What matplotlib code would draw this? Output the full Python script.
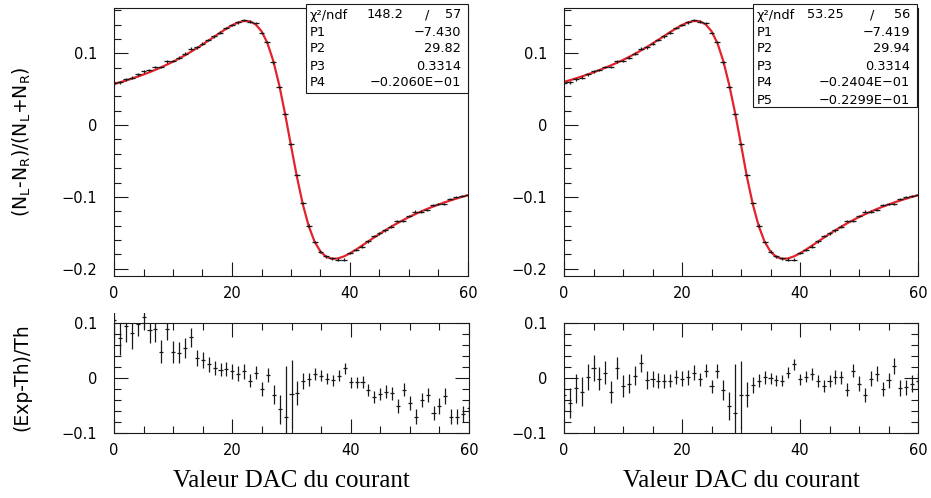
"""Asymmetry vs DAC current: two fits with their residual panels."""

import numpy as np
import matplotlib

matplotlib.use("Agg")

from matplotlib import pyplot as plt  # noqa: E402
from matplotlib.patches import Rectangle  # noqa: E402
from matplotlib.ticker import FuncFormatter, MultipleLocator  # noqa: E402

dac = list(range(61))

# fitted curves (left: 4-parameter fit, right: 5-parameter fit)
fit_left = [
    0.0571, 0.0595, 0.0620, 0.0647, 0.0675, 0.0704, 0.0736, 0.0769, 0.0805, 0.0843,
    0.0883, 0.0926, 0.0971, 0.1019, 0.1069, 0.1122, 0.1176, 0.1231, 0.1287, 0.1340,
    0.1389, 0.1427, 0.1449, 0.1445, 0.1403, 0.1307, 0.1142, 0.0893, 0.0560, 0.0155,
    -0.0286, -0.0719, -0.1101, -0.1405, -0.1622, -0.1761, -0.1835, -0.1862, -0.1855, -0.1826,
    -0.1784, -0.1734, -0.1679, -0.1624, -0.1568, -0.1515, -0.1463, -0.1413, -0.1366, -0.1322,
    -0.1280, -0.1241, -0.1204, -0.1169, -0.1136, -0.1106, -0.1076, -0.1049, -0.1023, -0.0998,
    -0.0975,
]
fit_right = [
    0.0601, 0.0625, 0.0650, 0.0677, 0.0705, 0.0734, 0.0766, 0.0799, 0.0833, 0.0869,
    0.0907, 0.0948, 0.0991, 0.1037, 0.1085, 0.1136, 0.1188, 0.1241, 0.1295, 0.1346,
    0.1393, 0.1429, 0.1449, 0.1445, 0.1403, 0.1307, 0.1142, 0.0893, 0.0560, 0.0170,
    -0.0270, -0.0719, -0.1101, -0.1405, -0.1622, -0.1761, -0.1835, -0.1862, -0.1855, -0.1826,
    -0.1784, -0.1734, -0.1679, -0.1624, -0.1568, -0.1515, -0.1463, -0.1413, -0.1366, -0.1322,
    -0.1280, -0.1241, -0.1204, -0.1169, -0.1136, -0.1106, -0.1076, -0.1049, -0.1023, -0.0998,
    -0.0975,
]

# measured asymmetry (N_L-N_R)/(N_L+N_R)
measured = [
    0.0583, 0.0596, 0.0638, 0.0660, 0.0706, 0.0747, 0.0765, 0.0807, 0.0812, 0.0886,
    0.0893, 0.0939, 0.0995, 0.1065, 0.1081, 0.1134, 0.1182, 0.1235, 0.1289, 0.1349,
    0.1392, 0.1430, 0.1463, 0.1442, 0.1421, 0.1287, 0.1157, 0.0873, 0.0531, 0.0159,
    -0.0262, -0.0697, -0.1087, -0.1398, -0.1624, -0.1761, -0.1828, -0.1853, -0.1874, -0.1872,
    -0.1780, -0.1737, -0.1692, -0.1616, -0.1544, -0.1507, -0.1466, -0.1414, -0.1337, -0.1339,
    -0.1267, -0.1203, -0.1203, -0.1178, -0.1113, -0.1102, -0.1100, -0.1030, -0.1006, -0.0988,
    -0.0970,
]

# (Exp-Th)/Th
res_left = [
    0.105, 0.072, 0.095, 0.081, 0.099, 0.111, 0.087, 0.090, 0.048, 0.090,
    0.048, 0.046, 0.055, 0.074, 0.036, 0.033, 0.025, 0.018, 0.015, 0.016,
    0.012, 0.008, 0.012, -0.005, 0.010, -0.020, 0.005, -0.030, -0.057, -0.070,
    -0.029, -0.027, -0.005, -0.002, 0.008, 0.004, -0.001, -0.004, 0.004, 0.018,
    -0.008, -0.008, -0.007, -0.022, -0.035, -0.029, -0.025, -0.028, -0.051, -0.021,
    -0.046, -0.070, -0.040, -0.031, -0.064, -0.051, -0.033, -0.070, -0.070, -0.065,
    -0.055,
]
res_left_err = [
    0.040, 0.030, 0.029, 0.029, 0.023, 0.021, 0.024, 0.024, 0.021, 0.021,
    0.020, 0.019, 0.018, 0.017, 0.015, 0.015, 0.014, 0.013, 0.012, 0.013,
    0.013, 0.013, 0.013, 0.012, 0.012, 0.012, 0.013, 0.018, 0.027, 0.091,
    0.061, 0.022, 0.015, 0.012, 0.011, 0.010, 0.010, 0.010, 0.010, 0.010,
    0.010, 0.010, 0.011, 0.011, 0.011, 0.011, 0.012, 0.012, 0.012, 0.012,
    0.013, 0.013, 0.013, 0.013, 0.013, 0.014, 0.014, 0.014, 0.014, 0.015,
    0.015,
]
res_right = [
    -0.030, -0.046, -0.019, -0.025, 0.002, 0.018, -0.001, 0.010, -0.025, 0.019,
    -0.015, -0.010, 0.004, 0.027, -0.004, -0.002, -0.005, -0.005, -0.005, 0.002,
    -0.001, 0.001, 0.010, -0.002, 0.013, -0.015, 0.013, -0.022, -0.051, -0.064,
    -0.031, -0.030, -0.013, -0.005, 0.001, 0.000, -0.004, -0.005, 0.010, 0.025,
    -0.002, 0.002, 0.008, -0.005, -0.015, -0.005, 0.002, 0.001, -0.021, 0.013,
    -0.010, -0.031, -0.001, 0.008, -0.020, -0.004, 0.022, -0.018, -0.017, -0.010,
    -0.005,
]
res_right_err = [
    0.030, 0.027, 0.026, 0.026, 0.024, 0.023, 0.021, 0.021, 0.020, 0.020,
    0.020, 0.018, 0.017, 0.016, 0.016, 0.015, 0.014, 0.013, 0.012, 0.013,
    0.013, 0.013, 0.013, 0.012, 0.012, 0.012, 0.013, 0.018, 0.025, 0.090,
    0.062, 0.022, 0.015, 0.012, 0.011, 0.010, 0.010, 0.010, 0.010, 0.010,
    0.010, 0.010, 0.011, 0.011, 0.011, 0.011, 0.012, 0.012, 0.012, 0.012,
    0.013, 0.013, 0.013, 0.013, 0.013, 0.014, 0.014, 0.014, 0.014, 0.015,
    0.015,
]

stats_left = [
    ("χ²/ndf", "148.2", "57"),
    ("P1", "\u22127.430"),
    ("P2", "29.82"),
    ("P3", "0.3314"),
    ("P4", "\u22120.2060E\u221201"),
]
stats_right = [
    ("χ²/ndf", "53.25", "56"),
    ("P1", "\u22127.419"),
    ("P2", "29.94"),
    ("P3", "0.3314"),
    ("P4", "\u22120.2404E\u221201"),
    ("P5", "\u22120.2299E\u221201"),
]

W, H = 931, 498
RED = "#e3222b"
INK = "#1a1a1a"
RES_MAX = 0.1

plt.rcParams["font.family"] = ["DejaVu Sans"]
plt.rcParams["mathtext.fontset"] = "custom"
plt.rcParams["mathtext.rm"] = "DejaVu Sans"
plt.rcParams["axes.unicode_minus"] = True


def _px_axes(fig, left, top, right, bottom):
    return fig.add_axes([left / W, 1 - bottom / H, (right - left) / W, (bottom - top) / H])


def _tick_label(value, _):
    value = round(value, 6)
    if value == 0:
        return "0"
    return f"{value:g}".replace("-", "\u2212")


def _style(ax, ylim, all_sides):
    ax.set_xlim(0, 60)
    ax.set_ylim(*ylim)
    ax.xaxis.set_major_locator(MultipleLocator(20))
    ax.xaxis.set_minor_locator(MultipleLocator(5))
    ax.yaxis.set_major_locator(MultipleLocator(0.1))
    ax.yaxis.set_minor_locator(MultipleLocator(0.02))
    ax.xaxis.set_major_formatter(FuncFormatter(_tick_label))
    ax.yaxis.set_major_formatter(FuncFormatter(_tick_label))
    ax.tick_params(which="both", direction="in", top=all_sides, right=all_sides,
                   width=0.8, color=INK, labelsize=10.5, labelcolor="black")
    ax.tick_params(which="major", length=10)
    ax.tick_params(which="minor", length=5)
    ax.tick_params(axis="y", pad=12)
    ax.tick_params(axis="x", pad=7)
    for spine in ax.spines.values():
        spine.set_linewidth(0.8)
        spine.set_color(INK)


def _stats_box(fig, left, top, right, bottom, rows, chi_right, slash_x):
    fig.add_artist(Rectangle((left / W, 1 - bottom / H), (right - left) / W, (bottom - top) / H,
                             transform=fig.transFigure, facecolor="white",
                             edgecolor=INK, linewidth=0.8, zorder=5))
    size = 9.3
    for index, row in enumerate(rows):
        y = 1 - (15 + 17 * index) / H
        fig.text((left + 4) / W, y, row[0], fontsize=size, va="center", ha="left", zorder=6)
        if len(row) == 3:
            fig.text((right - chi_right) / W, y, row[1], fontsize=size, va="center", ha="right", zorder=6)
            fig.text((right - slash_x) / W, y, "/", fontsize=size, va="center", ha="center", zorder=6)
            fig.text((right - 7) / W, y, row[2], fontsize=size, va="center", ha="right", zorder=6)
        else:
            fig.text((right - 7) / W, y, row[1], fontsize=size, va="center", ha="right", zorder=6)


def _draw_top(ax, fit):
    ax.plot(dac, fit, color=RED, linewidth=1.6, zorder=2)
    ax.errorbar(dac, measured, yerr=meas_err, xerr=0.5, fmt="none",
                ecolor=INK, elinewidth=0.9, capsize=0, zorder=3)
    _style(ax, (-0.21, 0.163), all_sides=False)


def _draw_residual(ax, values, errors):
    values = np.array(values)
    errors = np.array(errors)
    inside = values <= RES_MAX
    # points inside the frame are clipped to it; points above it reach up to the pad edge
    for mask, height in ((inside, 1.0), (~inside, 1.09)):
        if not mask.any():
            continue
        bars = ax.errorbar(np.array(dac)[mask], values[mask], yerr=errors[mask], xerr=0.35,
                           fmt="none", ecolor=INK, elinewidth=0.9, capsize=0, zorder=3)
        clip = Rectangle((0, 0), 1, height, transform=ax.transAxes)
        for collection in bars[2]:
            collection.set_clip_path(clip)
    _style(ax, (-RES_MAX, RES_MAX), all_sides=True)


meas_err = np.abs(np.array(fit_left)) * np.array(res_left_err)

fig = plt.figure(figsize=(W / 100, H / 100), dpi=100)

ax_tl = _px_axes(fig, 114, 8, 468, 276)
ax_tr = _px_axes(fig, 564, 8, 918, 276)
ax_bl = _px_axes(fig, 114, 323, 469, 433)
ax_br = _px_axes(fig, 564, 323, 918, 433)

_draw_top(ax_tl, fit_left)
_draw_top(ax_tr, fit_right)
_draw_residual(ax_bl, res_left, res_left_err)
_draw_residual(ax_br, res_right, res_right_err)

_stats_box(fig, 306, 4, 468, 93, stats_left, chi_right=65, slash_x=41)
_stats_box(fig, 753, 4, 917, 107, stats_right, chi_right=73, slash_x=45)

fig.text(22 / W, 1 - 142 / H, r"(N$_{\rm L}$-N$_{\rm R}$)/(N$_{\rm L}$+N$_{\rm R}$)",
         rotation=90, fontsize=13.5, ha="center", va="center")
fig.text(22 / W, 1 - 377 / H, "(Exp-Th)/Th", rotation=90, fontsize=13.5,
         ha="center", va="center")
for center in (291, 741):
    fig.text(center / W, 1 - 481 / H, "Valeur DAC du courant", family="Liberation Serif",
             fontsize=18, ha="center", va="center")

fig.savefig("out.png", dpi=100)
